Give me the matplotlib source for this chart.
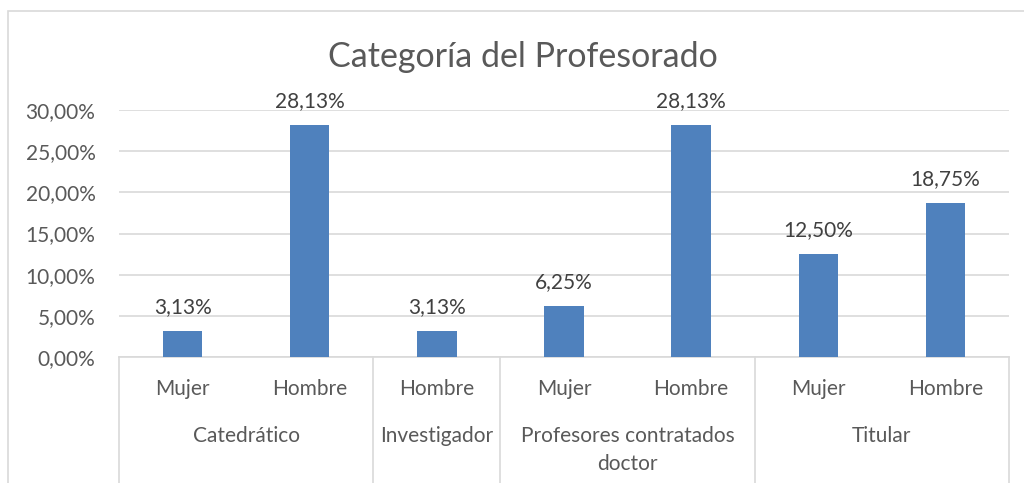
import matplotlib
matplotlib.use("Agg")
import matplotlib.pyplot as plt
import matplotlib.transforms as mtransforms
from matplotlib.patches import Rectangle

# datos
grupos = ["Catedrático", "Investigador", "Profesores contratados\ndoctor", "Titular"]
sexo = ["Mujer", "Hombre", "Hombre", "Mujer", "Hombre", "Mujer", "Hombre"]
grupo_idx = [0, 0, 1, 2, 2, 3, 3]
valores = [3.13, 28.13, 3.13, 6.25, 28.13, 12.50, 18.75]
yticks = [0, 5, 10, 15, 20, 25, 30]

azul = "#4F81BD"
gris_txt = "#595959"
gris_lin = "#D9D9D9"

plt.rcParams['font.family'] = ['Lato', 'DejaVu Sans']

fig = plt.figure(figsize=(10.24, 4.83), dpi=100)
ax = fig.add_axes([119/1024, 1 - 357/483, 890/1024, 247/483])

# borde del grafico
fig.patches.append(Rectangle((8/1024, -0.2), 1.2, 1.2 - 11/483, transform=fig.transFigure,
                             fill=False, edgecolor=gris_lin, lw=1.2))

x = list(range(len(valores)))
ax.bar(x, valores, width=0.31, color=azul, zorder=3)
ax.set_xlim(-0.5, len(valores) - 0.5)
ax.set_ylim(0, 30)
ax.set_yticks(yticks)
ax.yaxis.set_major_formatter(matplotlib.ticker.FuncFormatter(lambda v, p: ("%.2f%%" % v).replace(".", ",")))
ax.tick_params(axis='y', length=0, labelsize=15, labelcolor=gris_txt, pad=17)
ax.grid(axis='y', color=gris_lin, lw=1.2, zorder=0)
for s in ["top", "right", "left"]:
    ax.spines[s].set_visible(False)
ax.spines["bottom"].set_color(gris_lin)
ax.spines["bottom"].set_linewidth(1.2)

for xi, v in zip(x, valores):
    ax.annotate(("%.2f%%" % v).replace(".", ","), (xi, v), xytext=(0, 10),
                textcoords="offset points", ha="center", va="bottom",
                fontsize=15, color="#404040")

# eje de categorias en dos niveles
ax.set_xticks(x)
ax.set_xticklabels(sexo)
ax.tick_params(axis='x', length=0, labelsize=15, labelcolor=gris_txt, pad=16)

trans = mtransforms.blended_transform_factory(ax.transData, ax.transAxes)
limites = [-0.5]
for g in range(len(grupos)):
    miembros = [i for i in x if grupo_idx[i] == g]
    centro = sum(miembros) / len(miembros)
    ax.text(centro, -0.281, grupos[g], transform=trans, ha="center", va="top",
            fontsize=15, color=gris_txt, linespacing=1.45)
    limites.append(max(miembros) + 0.5)
for b in limites:
    ax.plot([b, b], [0, -0.6], transform=trans, color=gris_lin, lw=1.2, clip_on=False)

fig.suptitle("Categoría del Profesorado", x=523/1024, y=1 - 57/483, va="center",
             fontsize=24.5, color=gris_txt)

fig.savefig("out.png", dpi=100)
